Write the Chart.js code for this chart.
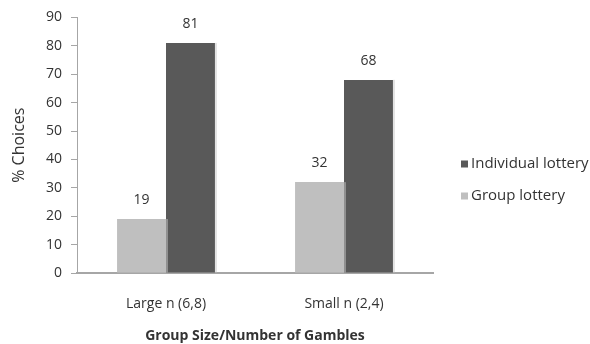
<!DOCTYPE html>
<html>
<head>
<meta charset="utf-8">
<script src="https://cdn.jsdelivr.net/npm/chart.js@4"></script>
<style>
html,body{margin:0;padding:0;background:#fff;}
#wrap{width:590px;height:344px;position:relative;}
</style>
</head>
<body>
<div id="wrap"><canvas id="c" width="590" height="344"></canvas></div>
<script>
const categories = ['Large n (6,8)', 'Small n (2,4)'];
const groupLottery = [19, 32];
const individualLottery = [81, 68];
const yTicks = [0, 10, 20, 30, 40, 50, 60, 70, 80, 90];
const seriesNames = ['Group lottery', 'Individual lottery'];
const seriesColors = ['#bfbfbf', '#595959'];

const FONT = "'Open Sans', sans-serif";
const TXT = '#333333';

const labelPlugin = {
  id: 'valueLabels',
  afterDatasetsDraw(chart) {
    const ctx = chart.ctx;
    ctx.save();
    ctx.font = '14px ' + FONT;
    ctx.fillStyle = TXT;
    ctx.textAlign = 'center';
    ctx.textBaseline = 'middle';
    chart.data.datasets.forEach((ds, i) => {
      const meta = chart.getDatasetMeta(i);
      meta.data.forEach((bar, j) => {
        ctx.fillText(String(ds.data[j]), bar.x, bar.y - 19);
      });
    });
    ctx.restore();
  }
};

const shadowPlugin = {
  id: 'barEdges',
  afterDatasetsDraw(chart) {
    const ctx = chart.ctx;
    ctx.save();
    ctx.fillStyle = 'rgba(200,200,200,0.5)';
    chart.data.datasets.forEach((ds, i) => {
      const meta = chart.getDatasetMeta(i);
      meta.data.forEach((bar) => {
        const x2 = bar.x + bar.width / 2;
        ctx.fillRect(x2, bar.y, 2, bar.base - bar.y);
      });
    });
    ctx.restore();
  }
};

const legendPlugin = {
  id: 'customLegend',
  afterDraw(chart) {
    const ctx = chart.ctx;
    ctx.save();
    ctx.font = '15px ' + FONT;
    ctx.textBaseline = 'middle';
    ctx.textAlign = 'left';
    const items = chart.data.datasets.slice().reverse();
    items.forEach((ds, k) => {
      const cy = 164 + k * 32;
      ctx.fillStyle = ds.backgroundColor;
      ctx.fillRect(461, cy - 3.5, 7, 7);
      ctx.fillStyle = TXT;
      ctx.fillText(ds.label, 471, cy);
    });
    ctx.restore();
  }
};

new Chart(document.getElementById('c'), {
  type: 'bar',
  data: {
    labels: categories,
    datasets: [
      { label: seriesNames[0], data: groupLottery, backgroundColor: seriesColors[0] },
      { label: seriesNames[1], data: individualLottery, backgroundColor: seriesColors[1] }
    ]
  },
  options: {
    responsive: false,
    animation: false,
    devicePixelRatio: 1,
    layout: { padding: { left: 0, right: 157, top: 11, bottom: 0 } },
    datasets: { bar: { categoryPercentage: 0.55, barPercentage: 1.0 } },
    plugins: { legend: { display: false }, tooltip: { enabled: false } },
    scales: {
      x: {
        grid: { display: false, drawTicks: false },
        border: { color: '#a6a6a6', width: 2 },
        ticks: { color: TXT, font: { family: FONT, size: 14 }, padding: 23 },
        title: { display: true, text: 'Group Size/Number of Gambles', color: TXT,
                 font: { family: FONT, size: 14, weight: 'bold' }, padding: { top: 0, bottom: 0 } },
        afterFit(s) { s.height = 71; }
      },
      y: {
        min: 0, max: 90,
        afterBuildTicks(s) { s.ticks = yTicks.map(v => ({ value: v })); },
        grid: { drawOnChartArea: false, drawTicks: true, tickLength: 6, color: '#a6a6a6' },
        border: { color: '#a6a6a6', width: 1 },
        ticks: { color: TXT, font: { family: FONT, size: 14 }, padding: 9 },
        title: { display: true, text: '% Choices', color: TXT,
                 font: { family: FONT, size: 16 }, padding: { top: 10, bottom: 0 } },
        afterFit(s) { s.width = 77; }
      }
    }
  },
  plugins: [labelPlugin, shadowPlugin, legendPlugin]
});
</script>
</body>
</html>
